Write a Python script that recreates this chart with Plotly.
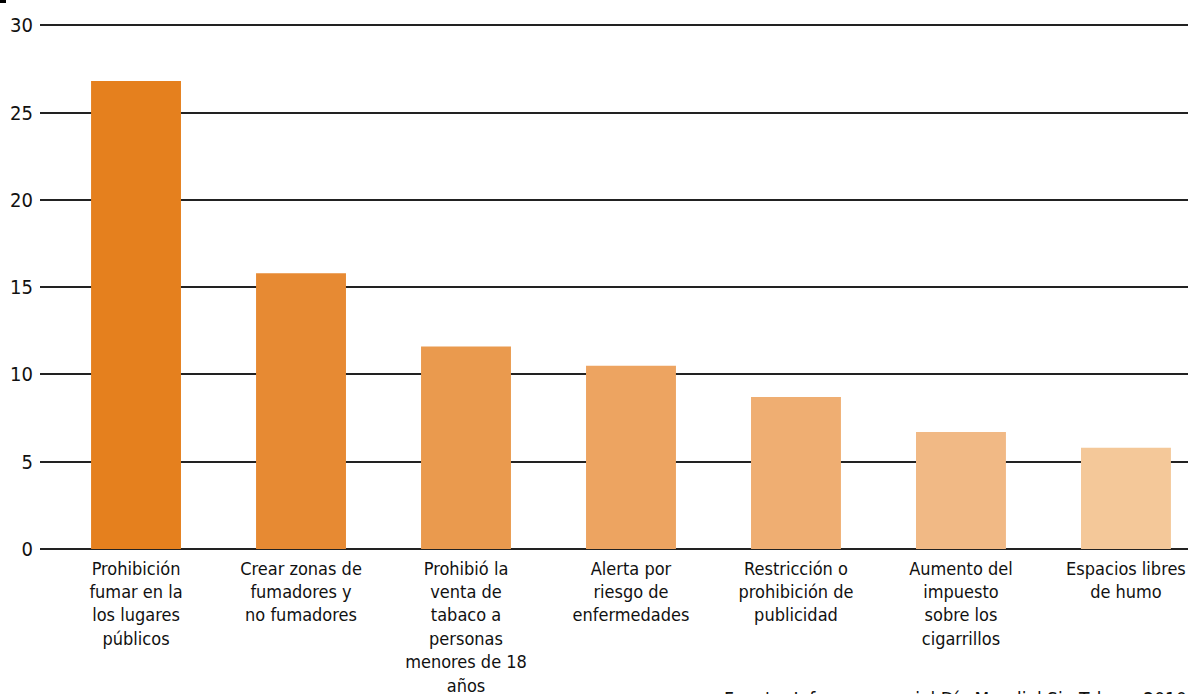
import plotly.graph_objects as go

categories = [
    "Prohibición<br>fumar en la<br>los lugares<br>públicos",
    "Crear zonas de<br>fumadores y<br>no fumadores",
    "Prohibió la<br>venta de<br>tabaco a<br>personas<br>menores de 18<br>años",
    "Alerta por<br>riesgo de<br>enfermedades",
    "Restricción o<br>prohibición de<br>publicidad",
    "Aumento del<br>impuesto<br>sobre los<br>cigarrillos",
    "Espacios libres<br>de humo",
]
values = [26.8, 15.8, 11.6, 10.5, 8.7, 6.7, 5.8]
colors = ["#E5801E", "#E78A33", "#EA9A4E", "#EDA461", "#EFAE72", "#F1B985", "#F4C899"]
y_ticks = [0, 5, 10, 15, 20, 25, 30]
source = "Fuente: Informe especial Día Mundial Sin Tabaco 2010 (MSP)"

FONT = "DejaVu Sans Condensed, Liberation Sans Narrow, sans-serif"

fig = go.Figure(go.Bar(
    x=list(range(len(categories))), y=values,
    marker=dict(color=colors, line=dict(width=0)),
    width=0.545, hoverinfo="y",
))

fig.update_layout(
    width=1188, height=694,
    margin=dict(l=40, r=0, t=20, b=145, autoexpand=False),
    paper_bgcolor="white", plot_bgcolor="white",
    font=dict(family=FONT, size=18, color="#111"),
    showlegend=False,
    xaxis=dict(
        range=[-0.582, 6.376], automargin=False,
        tickmode="array", tickvals=list(range(len(categories))), ticktext=categories,
        showgrid=False, zeroline=False, showline=False,
        ticks="outside", ticklen=3, tickcolor="rgba(0,0,0,0)",
        ticklabeloverflow="allow",
        tickfont=dict(family=FONT, size=18, color="#111"),
    ),
    yaxis=dict(
        range=[0, 30.3], automargin=False, tickmode="array", tickvals=y_ticks,
        showgrid=True, gridcolor="#222", gridwidth=1.5,
        zeroline=True, zerolinecolor="#222", zerolinewidth=1.5,
        showline=False, ticks="", ticklabelstandoff=6,
        tickfont=dict(family=FONT, size=20, color="#111"),
    ),
    bargap=0.45,
)

fig.add_annotation(
    text=source, xref="paper", yref="paper", x=0.594, y=-(686 - 549) / 529,
    xanchor="left", yanchor="top", showarrow=False,
    font=dict(family=FONT, size=19, color="#111"),
)
fig.add_shape(type="rect", xref="paper", yref="paper",
              x0=-40/1148, x1=-34/1148, y0=1 + 20/529, y1=1 + 17/529,
              fillcolor="black", line=dict(width=0))

fig.write_html("out.html")
